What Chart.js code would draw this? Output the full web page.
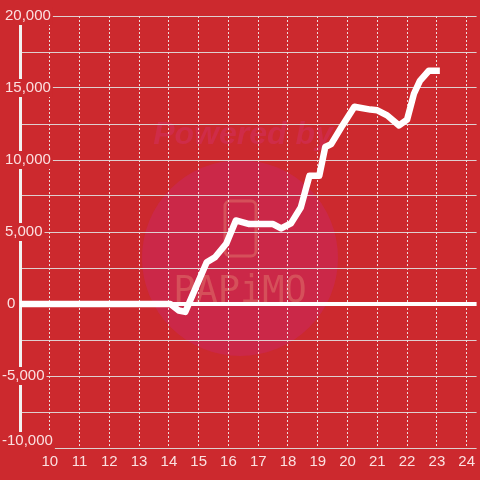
<!DOCTYPE html>
<html><head><meta charset="utf-8">
<script src="https://cdn.jsdelivr.net/npm/chart.js@4.4.1/dist/chart.umd.min.js"></script>
<style>html,body{margin:0;padding:0;background:#cc292e;}canvas{display:block;}</style>
</head><body>
<canvas id="c" width="480" height="480"></canvas>
<script>
// ---- data ----
const hours  = [9, 14.05, 14.33, 14.55, 15.27, 15.55, 15.93, 16.25, 16.7, 17.5, 17.77, 18.1, 18.43, 18.72, 19.05, 19.25, 19.45, 19.83, 20.23, 20.77, 21.0, 21.33, 21.73, 22.0, 22.23, 22.43, 22.73, 23.1];
const values = [0, 0, -450, -550, 2900, 3250, 4200, 5800, 5550, 5550, 5250, 5600, 6700, 8900, 8900, 10900, 11100, 12400, 13700, 13500, 13450, 13100, 12400, 12800, 14600, 15500, 16200, 16200];
const xTickHours = [10, 11, 12, 13, 14, 15, 16, 17, 18, 19, 20, 21, 22, 23, 24];
const yMin = -10000, yMax = 20000, yStep = 2500, yLabelStep = 5000;

const BG = '#cc292e';
const TXT = 'rgba(255,240,240,0.92)';
const FONT = '"Liberation Sans", Arial, sans-serif';

const watermark = {
  id: 'watermark',
  beforeDraw(chart) {
    const c = chart.ctx;
    c.save();
    c.fillStyle = BG;
    c.fillRect(0, 0, chart.width, chart.height);
    c.fillStyle = '#cb2848';
    c.beginPath(); c.arc(240, 258, 98, 0, Math.PI * 2); c.fill();
    c.fillStyle = '#cf2c48';
    c.font = 'italic bold 32px ' + FONT;
    c.textAlign = 'center'; c.textBaseline = 'alphabetic';
    c.fillText('Powered by', 243, 144);
    c.fillStyle = '#d5505a';
    c.font = '37px "DejaVu Sans Mono"';
    c.fillText('PAPiMO', 240, 302);
    c.strokeStyle = '#d5505a'; c.lineWidth = 3;
    c.beginPath(); c.roundRect(225, 201, 31, 55, 5); c.stroke();
    c.restore();
  }
};

// small per-label nudges of the y labels (bottom label lifted, minus signs hang left)
const nudgeYLabels = {
  id: 'nudgeYLabels',
  beforeDraw(chart) {
    const s = chart.scales.y;
    const items = s._computeLabelItems(chart.chartArea);
    items.forEach((it, i) => {
      const lbl = String(it.label);
      if (i === 0) it.options.translation[1] -= 7;
      if (lbl.startsWith('-')) it.options.translation[0] -= 3;
      if (lbl === '0') it.options.translation[0] += 2;
    });
    s._labelItems = items;
  }
};

new Chart(document.getElementById('c'), {
  type: 'line',
  data: {
    datasets: [{
      data: hours.map((h, i) => ({ x: h, y: values[i] })),
      borderColor: '#ffffff',
      borderWidth: 6.5,
      pointRadius: 0,
      tension: 0,
      borderJoinStyle: 'round',
      borderCapStyle: 'butt',
      fill: false
    }]
  },
  options: {
    responsive: false,
    animation: false,
    devicePixelRatio: 1,
    layout: { padding: { left: 20, top: 16, right: 0, bottom: 0 } },
    plugins: { legend: { display: false }, tooltip: { enabled: false } },
    scales: {
      x: {
        type: 'linear',
        min: 9, max: 24 + 1 / 3,
        afterBuildTicks: s => { s.ticks = xTickHours.map(v => ({ value: v })); },
        afterFit: s => { s.height = 32; },
        grid: { color: 'rgba(240,240,240,0.9)', lineWidth: 1, drawTicks: false, z: -1 },
        border: { display: false, dash: [2, 2] },
        ticks: { color: TXT, font: { family: FONT, size: 15 }, padding: 5, maxRotation: 0, autoSkip: false,
                 callback: v => String(v) }
      },
      y: {
        type: 'linear',
        min: yMin, max: yMax,
        afterBuildTicks: s => { const t = []; for (let v = yMin; v <= yMax; v += yStep) t.push({ value: v }); s.ticks = t; },
        afterFit: s => { s.width = 0; },
        grid: {
          color: c => (c.tick && c.tick.value === 0) ? '#ffffff' : 'rgba(225,225,225,0.9)',
          lineWidth: c => (c.tick && c.tick.value === 0) ? 4 : 1,
          drawTicks: false, z: -1
        },
        border: { display: true, color: '#f2f2f2', width: 3 },
        ticks: {
          mirror: true, padding: -15, color: TXT, font: { family: FONT, size: 15 },
          autoSkip: false,
          showLabelBackdrop: true, backdropColor: BG,
          backdropPadding: { top: 0, bottom: 0, left: 2, right: 2 },
          callback: v => (v % yLabelStep === 0) ? v.toLocaleString('en-US') : ''
        }
      }
    }
  },
  plugins: [watermark, nudgeYLabels]
});
</script>
</body></html>
